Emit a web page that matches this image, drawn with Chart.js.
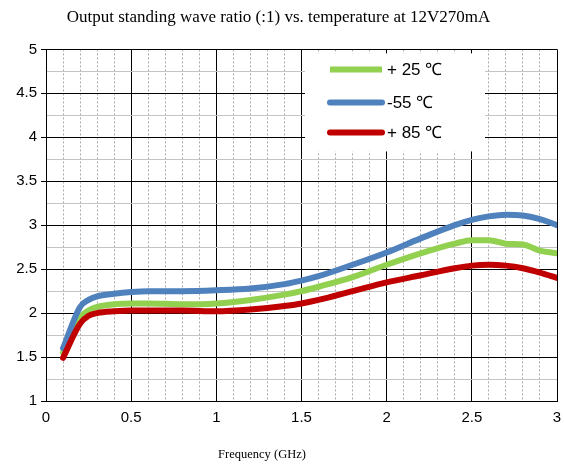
<!DOCTYPE html>
<html>
<head>
<meta charset="utf-8">
<script src="https://cdn.jsdelivr.net/npm/chart.js@4.4.0/dist/chart.umd.min.js"></script>
<style>
  html, body { margin: 0; padding: 0; background: #fff; }
  #wrap { width: 564px; height: 465px; }
</style>
</head>
<body>
<div id="wrap"><canvas id="vswrChart"></canvas></div>
<script>
  // values
  const freqGHz = [0.1, 0.2, 0.25, 0.3, 0.4, 0.5, 0.6, 0.8, 1.0, 1.2, 1.4, 1.5, 1.6, 1.8, 2.0, 2.2, 2.4, 2.5, 2.6, 2.7, 2.8, 2.9, 3.0];
  const vswrPlus25 = [1.55, 1.95, 2.03, 2.07, 2.10, 2.11, 2.11, 2.10, 2.11, 2.15, 2.21, 2.25, 2.30, 2.41, 2.55, 2.68, 2.79, 2.83, 2.83, 2.79, 2.78, 2.71, 2.68];
  const vswrMinus55 = [1.60, 2.07, 2.15, 2.19, 2.22, 2.24, 2.25, 2.25, 2.26, 2.28, 2.33, 2.37, 2.42, 2.55, 2.69, 2.85, 3.00, 3.06, 3.10, 3.12, 3.11, 3.07, 3.00];
  const vswrPlus85 = [1.49, 1.88, 1.97, 2.00, 2.02, 2.03, 2.03, 2.03, 2.02, 2.04, 2.08, 2.11, 2.15, 2.25, 2.35, 2.43, 2.51, 2.54, 2.55, 2.54, 2.51, 2.46, 2.40];
  const seriesLabels = ['+ 25 ℃', '-55 ℃', '+ 85 ℃'];
  const seriesColors = ['#92d050', '#4f81bd', '#c00000'];
  const xAxisTitle = 'Frequency (GHz)';

  const xMin = 0, xMax = 3, xMajorStep = 0.5, xMinorStep = 0.1;
  const yMin = 1, yMax = 5, yMajorStep = 0.5, yMinorStep = 0.25;

  function isMajor(v) {
    return Math.abs(v / yMajorStep - Math.round(v / yMajorStep)) < 1e-6;
  }

  function toPoints(values) {
    return values.map((v, i) => ({ x: freqGHz[i], y: v }));
  }

  // legend drawn as a white box inside the plot, like the original,
  // plus the x axis title which sits left of the plot centre
  const boxLegend = {
    id: 'boxLegend',
    afterDraw(chart) {
      const ctx = chart.ctx;
      const area = chart.chartArea;
      const boxLeft = area.left + 259, boxTop = area.top + 4;
      ctx.save();
      ctx.fillStyle = '#fff';
      ctx.fillRect(boxLeft, boxTop, 180, 98);
      const rows = [area.top + 20, area.top + 53, area.top + 83];
      chart.data.datasets.forEach((ds, i) => {
        const yy = rows[i];
        ctx.beginPath();
        ctx.strokeStyle = ds.borderColor;
        ctx.lineWidth = 6;
        ctx.lineCap = i === 0 ? 'butt' : 'round';
        ctx.moveTo(area.left + 284, yy);
        ctx.lineTo(area.left + 336, yy);
        ctx.stroke();
        ctx.fillStyle = '#000';
        ctx.font = '17px "Liberation Sans", Arial, sans-serif';
        ctx.textBaseline = 'middle';
        ctx.textAlign = 'left';
        ctx.fillText(ds.label, area.left + 341, yy + 1);
      });

      ctx.fillStyle = '#000';
      ctx.font = '12.5px "Liberation Serif", "DejaVu Serif", serif';
      ctx.textAlign = 'center';
      ctx.textBaseline = 'middle';
      ctx.fillText(xAxisTitle, 262, chart.height - 10);
      ctx.restore();
    }
  };

  const datasets = [vswrPlus25, vswrMinus55, vswrPlus85].map((vals, i) => ({
    label: seriesLabels[i],
    data: toPoints(vals),
    borderColor: seriesColors[i],
    backgroundColor: seriesColors[i],
    borderWidth: 6,
    pointRadius: 0,
    borderCapStyle: 'round',
    borderJoinStyle: 'round',
    cubicInterpolationMode: 'monotone',
    fill: false,
    order: 3 - i,
    xAxisID: 'x'
  }));

  new Chart(document.getElementById('vswrChart'), {
    type: 'line',
    data: { datasets: datasets },
    plugins: [boxLegend],
    options: {
      responsive: true,
      maintainAspectRatio: false,
      animation: false,
      layout: { padding: { left: 0, right: 7, top: 0, bottom: 0 } },
      plugins: {
        legend: { display: false },
        tooltip: { enabled: false },
        title: {
          display: true,
          text: 'Output standing wave ratio (:1) vs. temperature at 12V270mA',
          color: '#000',
          font: { family: '"Liberation Serif", "DejaVu Serif", serif', size: 17, weight: 'normal' },
          padding: { top: 7, bottom: 22 }
        }
      },
      scales: {
        x: {
          type: 'linear',
          position: 'bottom',
          min: xMin,
          max: xMax,
          ticks: {
            stepSize: xMajorStep,
            color: '#000',
            padding: 8,
            font: { family: '"Liberation Sans", Arial, sans-serif', size: 15 },
            callback: v => String(Number(v.toFixed(2)))
          },
          grid: { color: '#000', lineWidth: 1, drawTicks: false },
          border: { display: true, color: '#000' },
          afterFit: s => { s.height = 64; s.paddingRight = 0; s.paddingLeft = 0; }
        },
        xMinor: {
          type: 'linear',
          position: 'bottom',
          min: xMin,
          max: xMax,
          ticks: { display: false, stepSize: xMinorStep },
          grid: {
            drawTicks: false,
            lineWidth: 1,
            color: c => isMajor(c.tick.value) ? 'rgba(0,0,0,0)' : '#a8a8a8'
          },
          border: { display: false, dash: [2, 2] },
          afterFit: s => { s.height = 0; s.paddingRight = 0; s.paddingLeft = 0; }
        },
        y: {
          type: 'linear',
          min: yMin,
          max: yMax,
          ticks: {
            stepSize: yMinorStep,
            autoSkip: false,
            color: '#000',
            padding: 4,
            font: { family: '"Liberation Sans", Arial, sans-serif', size: 15 },
            callback: v => isMajor(v) ? String(Number(v.toFixed(2))) : ''
          },
          grid: {
            lineWidth: 1,
            tickLength: 5,
            color: c => isMajor(c.tick.value) ? '#000' : '#c4c4c4',
            tickColor: c => isMajor(c.tick.value) ? '#000' : 'rgba(0,0,0,0)'
          },
          border: { display: true, color: '#000' },
          afterFit: s => { s.width = 46; }
        }
      }
    }
  });
</script>
</body>
</html>
